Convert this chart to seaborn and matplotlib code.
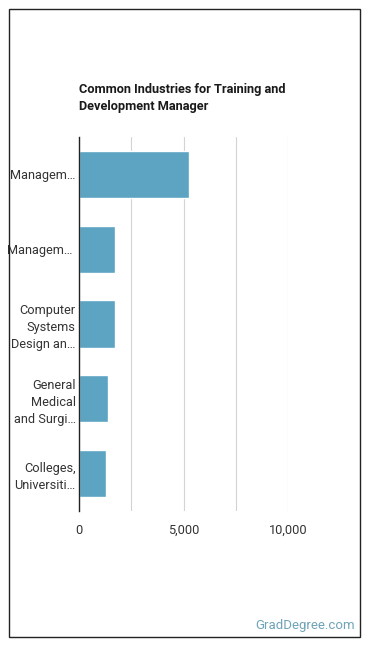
import matplotlib
matplotlib.use('Agg')
import matplotlib.pyplot as plt
import matplotlib.patches as patches
from matplotlib.ticker import FuncFormatter, MultipleLocator
import seaborn as sns
import pandas as pd

# Chart data
industries = [
    'Managem\u2026',
    'Managem\u2026 ',
    'Computer\nSystems\nDesign an\u2026',
    'General\nMedical\nand Surgi\u2026',
    'Colleges,\nUniversiti\u2026',
]
employees = [5250, 1720, 1720, 1390, 1300]
x_ticks = [0, 5000, 10000]

df = pd.DataFrame({'industry': industries, 'employees': employees})

sns.set_style('white')
plt.rcParams['font.family'] = ['Roboto', 'DejaVu Sans']

fig = plt.figure(figsize=(3.7, 6.48), dpi=100)
ax = fig.add_axes([79 / 370, 1 - 511 / 648, 209 / 370, 374 / 648])

sns.barplot(data=df, x='employees', y='industry', color='#5ca4c1',
            saturation=1, width=0.63, ax=ax)

ax.set_xlim(0, 10000)
ax.xaxis.set_major_locator(MultipleLocator(5000))
ax.xaxis.set_minor_locator(MultipleLocator(2500))
ax.xaxis.set_major_formatter(FuncFormatter(lambda v, p: f'{int(v):,}'))
ax.grid(axis='x', which='both', color='#d4d4d4', linewidth=0.8)
ax.set_axisbelow(True)
for side in ['top', 'right', 'bottom']:
    ax.spines[side].set_visible(False)
ax.spines['left'].set_color('#222222')
ax.spines['left'].set_linewidth(1)
ax.tick_params(axis='both', length=0, labelsize=9.2, colors='#333333')
ax.tick_params(axis='x', pad=9)
ax.tick_params(axis='y', pad=2.5)
for lbl in ax.get_yticklabels():
    lbl.set_linespacing(1.4)
ax.set_xlabel('')
ax.set_ylabel('')
ax.set_xticks(x_ticks)

fig.text(79 / 370, 1 - 98 / 648,
         'Common Industries for Training and\nDevelopment Manager',
         fontsize=9.2, fontweight='bold', color='#1a1a1a',
         ha='left', va='center', linespacing=1.45)

fig.text(355 / 370, 1 - 626 / 648, 'GradDegree.com', fontsize=9.5,
         color='#6fa3b8', ha='right', va='center')

# outer frame
fig.patches.append(patches.Rectangle((8.5 / 370, 1 - 636.5 / 648),
                                     351 / 370, 628 / 648,
                                     transform=fig.transFigure, fill=False,
                                     edgecolor='#222222', linewidth=1))

plt.savefig('out.png', dpi=100)
plt.close()
